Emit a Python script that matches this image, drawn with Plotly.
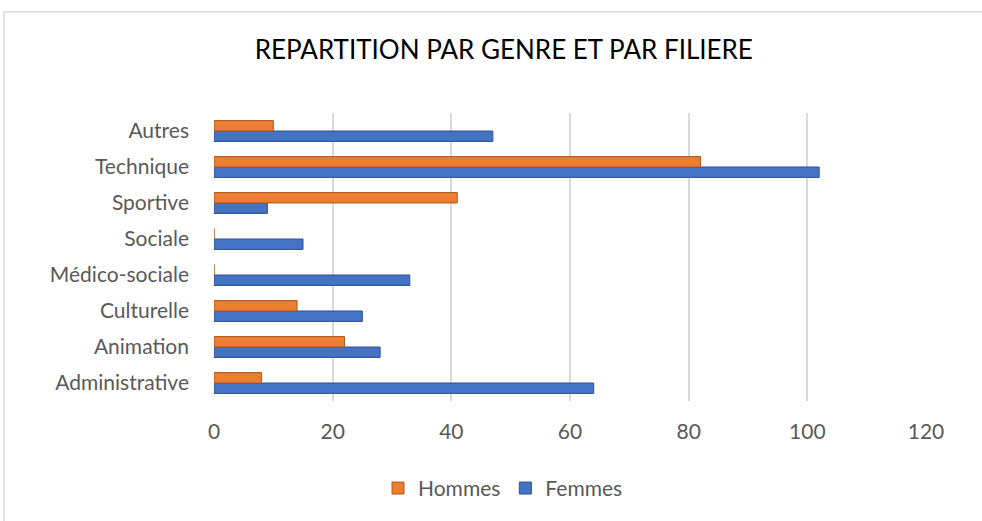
import plotly.graph_objects as go

categories = ["Administrative", "Animation", "Culturelle", "Médico-sociale", "Sociale", "Sportive", "Technique", "Autres"]
hommes = [8, 22, 14, 0, 0, 41, 82, 10]
femmes = [64, 28, 25, 33, 15, 9, 102, 47]
x_ticks = [0, 20, 40, 60, 80, 100, 120]

fig = go.Figure()
fig.add_trace(go.Bar(y=categories, x=femmes, name="Femmes", orientation="h",
                     marker=dict(color="#4472C4", line=dict(color="#2F528F", width=1))))
fig.add_trace(go.Bar(y=categories, x=hommes, name="Hommes", orientation="h",
                     marker=dict(color="#ED7D31", line=dict(color="#AE5A21", width=1))))

W, H = 982, 521
ml, mr, mt, mb = 214, 56, 113, 118
pw = W - ml - mr
ph = H - mt - mb

fig.update_layout(
    width=W, height=H,
    margin=dict(l=ml, r=mr, t=mt, b=mb),
    paper_bgcolor="white", plot_bgcolor="white",
    font=dict(family="Lato, Calibri, sans-serif", color="#595959", size=21),
    title=dict(text="REPARTITION PAR GENRE ET PAR FILIERE", x=0.513, xanchor="center",
               y=1 - 50 / H, yanchor="middle", yref="container",
               font=dict(size=26, color="#000000", family="Lato, Calibri, sans-serif")),
    barmode="group", bargap=0.42, bargroupgap=0.0,
    showlegend=True,
    legend=dict(orientation="h", traceorder="reversed", x=(503 - ml) / pw, xanchor="center",
                y=(H - mb - 491) / ph, yanchor="middle", font=dict(size=21, color="#595959"),
                itemwidth=30),
    xaxis=dict(range=[0, 120], tickvals=x_ticks, showgrid=True, gridcolor="#D9D9D9", gridwidth=2,
               zeroline=False, showline=False, ticks="", ticklabelstandoff=16,
               tickfont=dict(size=21, color="#595959")),
    yaxis=dict(showgrid=False, zeroline=False, showline=False, ticks="", ticklabelstandoff=24,
               tickfont=dict(size=21, color="#595959")),
    shapes=[dict(type="rect", xref="paper", yref="paper",
                 x0=(4 - ml) / pw, x1=(W + 10 - ml) / pw,
                 y0=(H - mb - (H + 10)) / ph, y1=(H - mb - 11) / ph,
                 line=dict(color="#D9D9D9", width=1.5), fillcolor="rgba(0,0,0,0)", layer="below")],
)

fig.write_html("out.html", config={"displayModeBar": False},
               post_script="document.body.style.margin='0';")
